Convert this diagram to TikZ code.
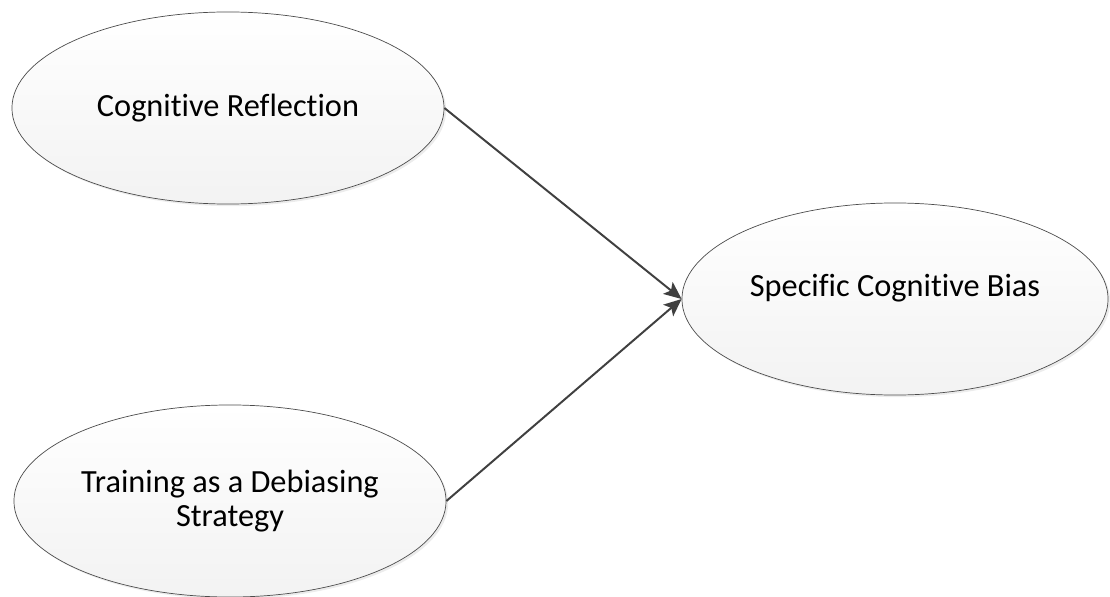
\documentclass[tikz,border=0pt]{standalone}
\usepackage{fontspec}
\setmainfont{Carlito}[Ligatures=NoCommon]
\usetikzlibrary{shapes.geometric,arrows.meta,shadows}

\begin{document}
\begin{tikzpicture}[x=0.025cm,y=-0.025cm]
        \useasboundingbox (0,0) rectangle (1110,597);

        \begin{scope}[every node/.style={ellipse,draw=black!70,line width=0.5pt,
            top color=white,bottom color=black!5,
            drop shadow={shadow xshift=1.5pt,shadow yshift=-1.5pt,opacity=0.15},
            minimum width=10.8cm,minimum height=4.8cm,inner sep=0pt,
            align=center,font=\fontsize{23}{24.5}\selectfont}]
          \node (1) at (228,108) {Cognitive Reflection};
          \node (2) at (230,501) {Training as a Debiasing\\Strategy};
          \node[minimum width=10.65cm,text height=0.5cm,text depth=0.65cm] (3) at (895,299) {Specific Cognitive Bias};
        \end{scope}

        \begin{scope}[every edge/.style={draw=black!75,line width=1.4pt,
            -{Stealth[length=4.4mm,width=3.8mm,inset=1mm]}}]
          \path (1.east) edge (3.west);
          \path (2.east) edge (3.west);
        \end{scope}

      \end{tikzpicture}
\end{document}
